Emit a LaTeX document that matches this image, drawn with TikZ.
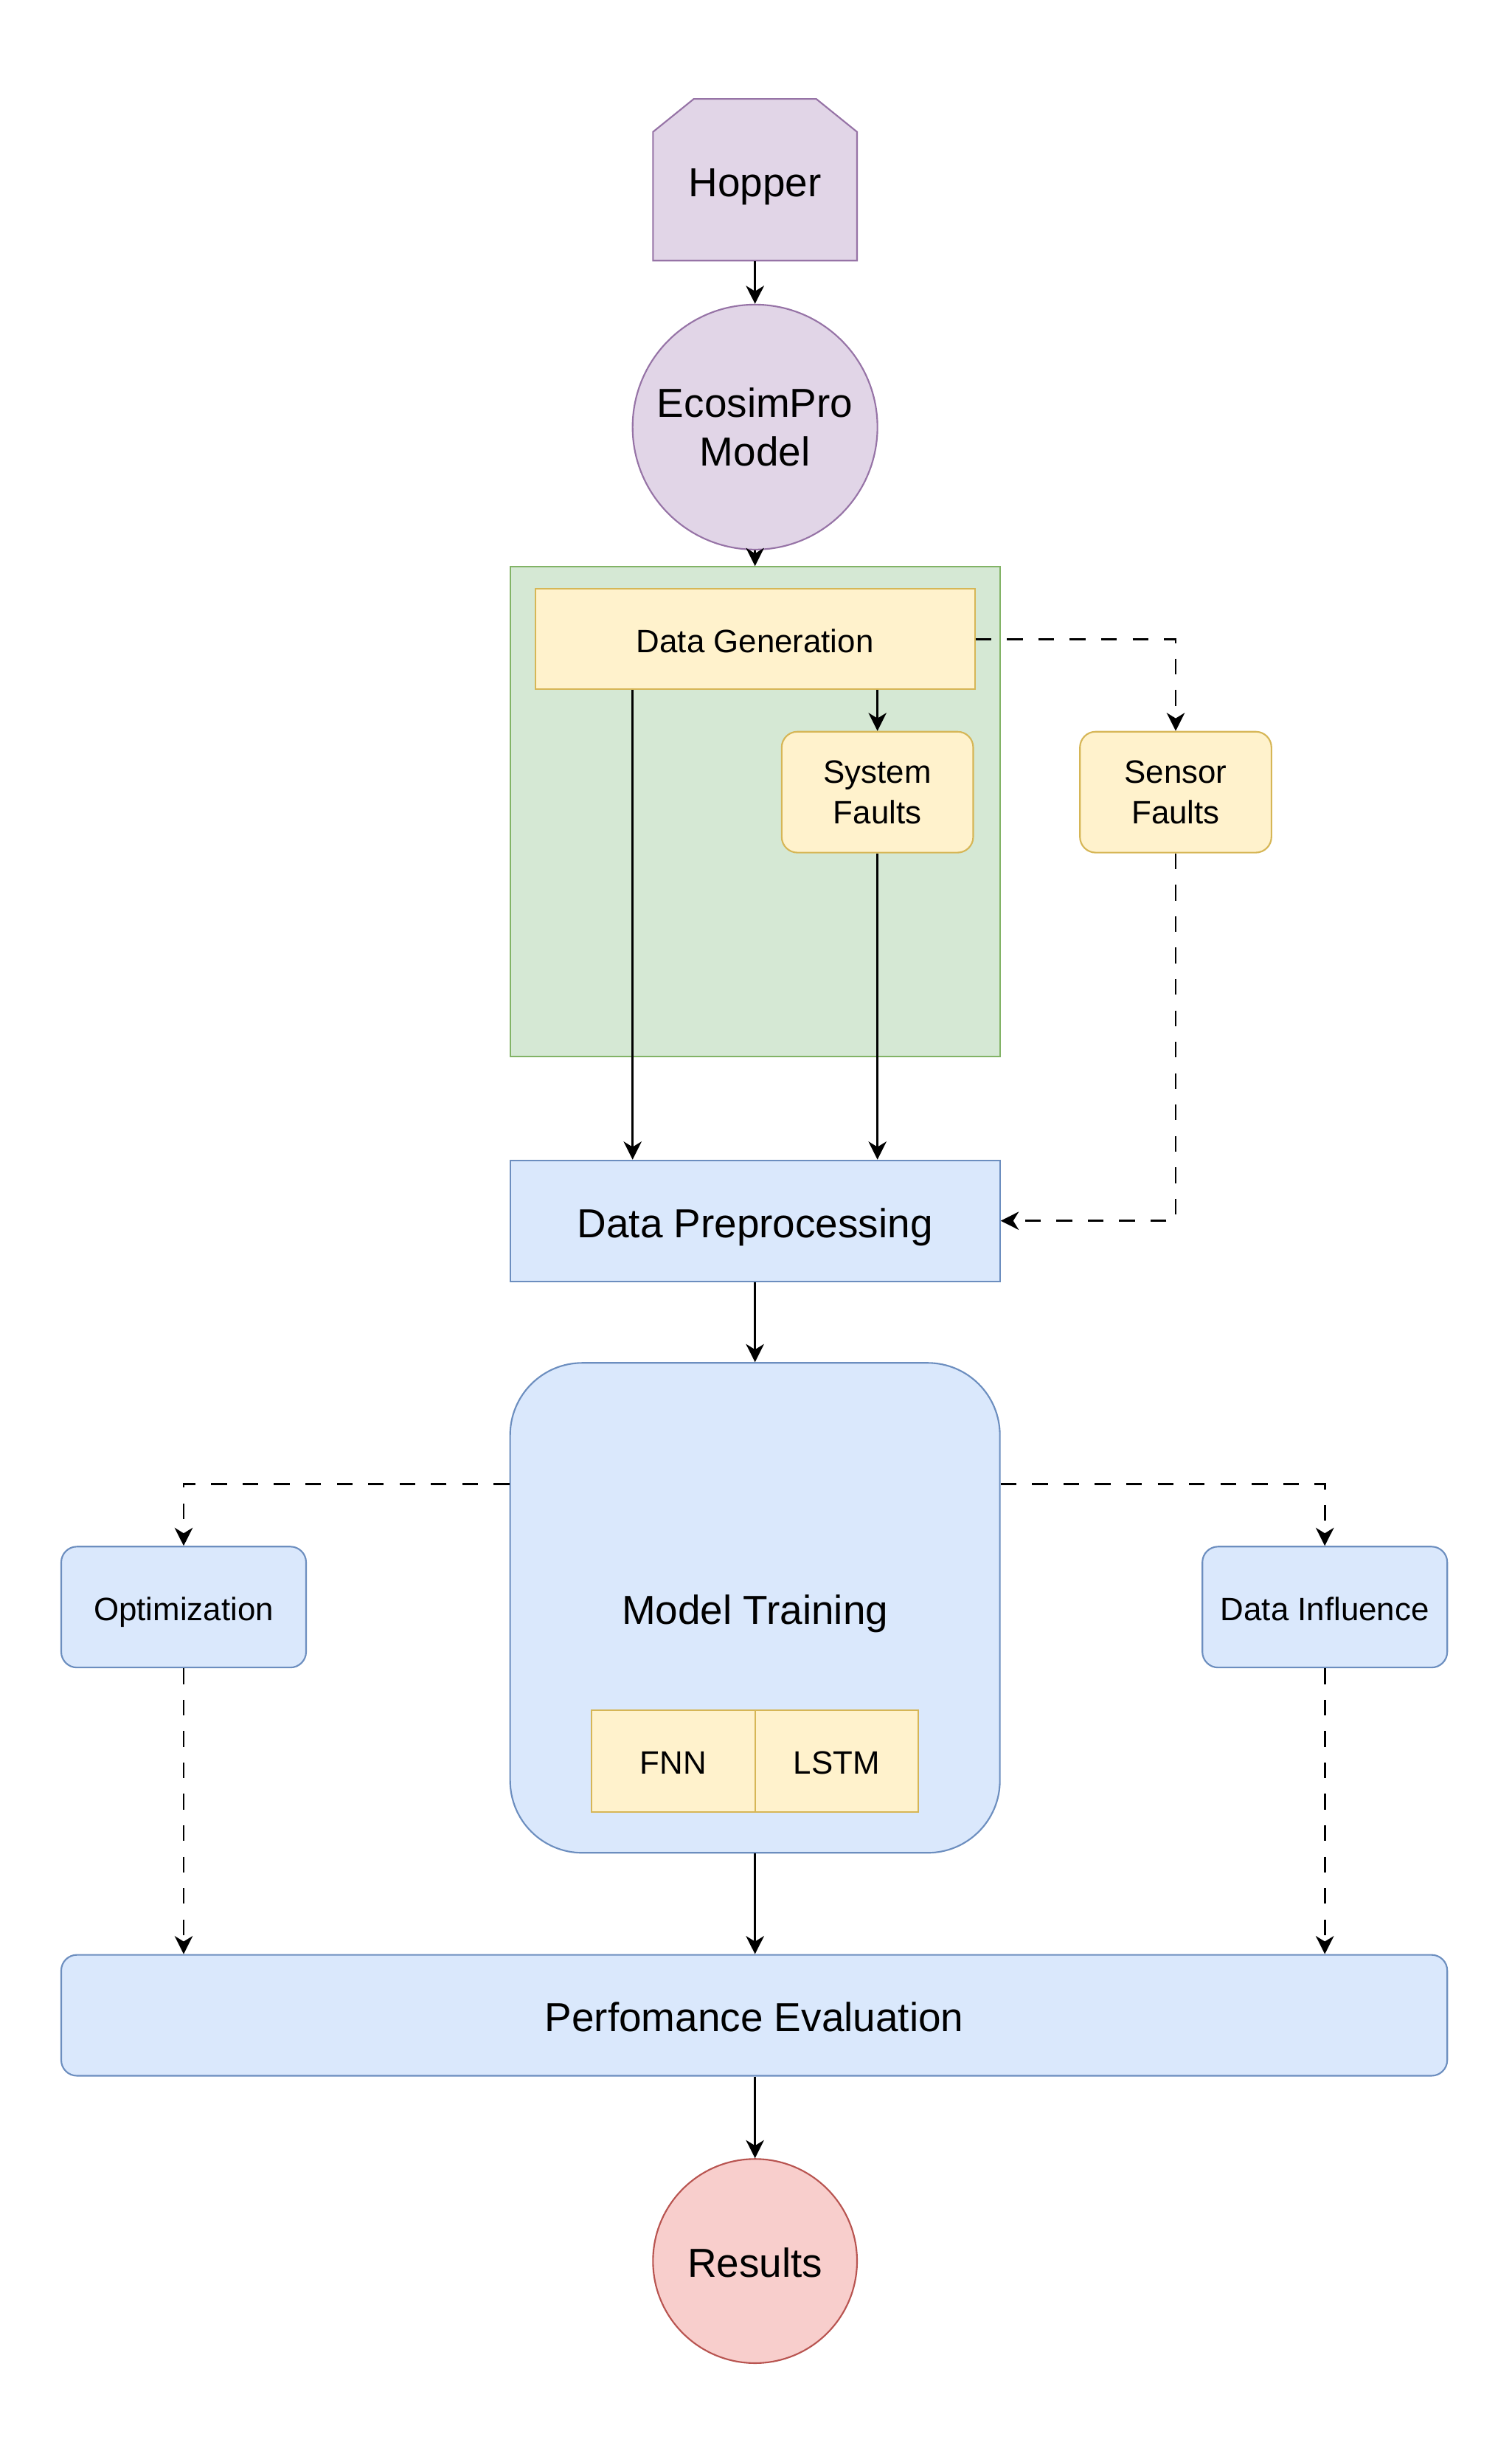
\documentclass[tikz,border=0pt]{standalone}
\usepackage{fontspec}
\setmainfont{Liberation Sans}
\usepackage{tikz}
\usetikzlibrary{arrows.meta}

\definecolor{purplefill}{HTML}{E1D5E7}
\definecolor{purpleline}{HTML}{9673A6}
\definecolor{greenfill}{HTML}{D5E8D4}
\definecolor{greenline}{HTML}{82B366}
\definecolor{yellowfill}{HTML}{FFF2CC}
\definecolor{yellowline}{HTML}{D6B656}
\definecolor{bluefill}{HTML}{DAE8FC}
\definecolor{blueline}{HTML}{6C8EBF}
\definecolor{redfill}{HTML}{F8CECC}
\definecolor{redline}{HTML}{B85450}

\begin{document}
\begin{tikzpicture}[x=1pt, y=-1pt, line width=1pt]
    \tikzstyle{block} = [rectangle, draw, inner sep=0pt, align=center, line width=1pt]
    \tikzstyle{bigtext} = [font=\fontsize{25.8}{31}\selectfont]
    \tikzstyle{smalltext} = [font=\fontsize{20.6}{26}\selectfont]
    \tikzstyle{bigone} = [bigtext, text height=24pt, text depth=3pt]
    \tikzstyle{smallone} = [smalltext, text height=19.5pt, text depth=2.5pt]
    \tikzstyle{bluebox} = [block, draw=blueline, fill=bluefill]
    \tikzstyle{yellowbox} = [block, draw=yellowline, fill=yellowfill, smalltext]
    \tikzstyle{roundbox} = [rounded corners=10pt]
    \tikzstyle{arr} = [-{Stealth[length=11.5pt, width=11.5pt, inset=3.5pt]}, line width=1.3pt]
    \tikzstyle{dasharr} = [arr, dash pattern=on 10pt off 10pt]

    \useasboundingbox (0,0) rectangle (963,1568);

    % Hopper and model
    \filldraw[draw=purpleline, fill=purplefill] (416,84) -- (442,63) -- (520,63) -- (546,84) -- (546,166) -- (416,166) -- cycle;
    \node[bigone, inner sep=0pt, minimum width=130pt, minimum height=103pt] (hopper) at (481,114.5) {Hopper};
    \node[circle, draw=purpleline, fill=purplefill, inner sep=0pt, minimum size=156pt, align=center, bigtext] (ecosim) at (481,272) {EcosimPro\\Model};

    % Data generation block
    \node[block, draw=greenline, fill=greenfill, minimum width=312pt, minimum height=312pt] (datablock) at (481,517) {};
    \node[yellowbox, smallone, minimum width=280pt, minimum height=64pt] (datagen) at (481,407) {Data Generation};
    \node[yellowbox, roundbox, minimum width=122pt, minimum height=77pt] (sysfaults) at (559,504.5) {System\\Faults};
    \node[yellowbox, roundbox, minimum width=122pt, minimum height=77pt] (sensfaults) at (749,504.5) {Sensor\\Faults};
    \coordinate (leftlane) at (403,0);

    % Preprocessing and training
    \node[bluebox, bigone, minimum width=312pt, minimum height=77pt] (dataprep) at (481,777.5) {Data Preprocessing};
    \node[bluebox, bigone, rounded corners=46pt, minimum width=312pt, minimum height=312pt] (training) at (481,1024) {Model Training};
    \node[yellowbox, smallone, minimum width=104pt, minimum height=65pt] (fnn) at (429,1121.5) {FNN};
    \node[yellowbox, smallone, minimum width=104pt, minimum height=65pt] (lstm) at (533,1121.5) {LSTM};
    \node[bluebox, roundbox, smallone, minimum width=156pt, minimum height=77pt] (optim) at (117,1023.5) {Optimization};
    \node[bluebox, roundbox, smallone, minimum width=156pt, minimum height=77pt] (influence) at (844,1023.5) {Data Influence};
    \coordinate (branch) at (481,945);

    % Evaluation and results
    \node[bluebox, roundbox, bigone, minimum width=883pt, minimum height=77pt] (perf) at (480.5,1283.5) {Perfomance Evaluation};
    \node[circle, draw=redline, fill=redfill, inner sep=0pt, minimum size=130pt, bigone] (results) at (481,1440) {Results};

    % Connectors
    \draw[arr] (hopper.south) -- (ecosim.north);
    \draw[arr] (ecosim.south) -- (datablock.north);
    \draw[arr] (datagen.south -| leftlane) -- (dataprep.north -| leftlane);
    \draw[arr] (datagen.south -| sysfaults.north) -- (sysfaults.north);
    \draw[arr] (sysfaults.south) -- (dataprep.north -| sysfaults.south);
    \draw[dasharr] (datagen.east) -| (sensfaults.north);
    \draw[dasharr] (sensfaults.south) |- (dataprep.east);
    \draw[arr] (dataprep.south) -- (training.north);
    \draw[dasharr] (training.west |- branch) -| (optim.north);
    \draw[dasharr] (training.east |- branch) -| (influence.north);
    \draw[dasharr] (optim.south) -- (perf.north -| optim.south);
    \draw[dasharr] (influence.south) -- (perf.north -| influence.south);
    \draw[arr] (training.south) -- (perf.north -| training.south);
    \draw[arr] (perf.south -| results.north) -- (results.north);
\end{tikzpicture}
\end{document}
